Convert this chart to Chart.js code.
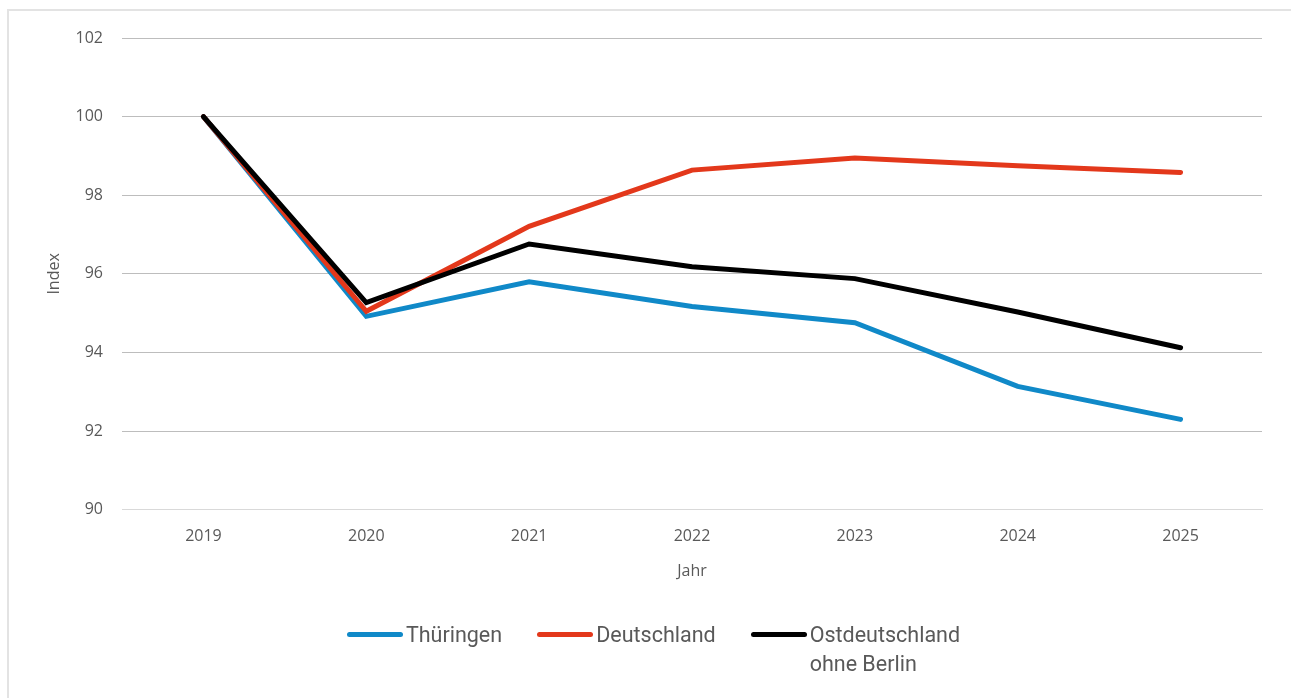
<!DOCTYPE html>
<html lang="de">
<head>
<meta charset="utf-8">
<script src="https://cdn.jsdelivr.net/npm/chart.js@4.4.1/dist/chart.umd.min.js"></script>
<style>
  html, body { margin: 0; padding: 0; background: #fff; overflow: hidden; }
  #wrap { position: relative; width: 1291px; height: 698px; }
  #frame {
    position: absolute; left: 7px; top: 9px; width: 1300px; height: 700px;
    border-left: 2px solid #e3e3e3; border-top: 2px solid #e3e3e3;
  }
  #legend {
    position: absolute; top: 620px; left: 8px; width: 1291px;
    display: flex; justify-content: center; align-items: flex-start; gap: 35px;
    font-family: "Liberation Sans Narrow", "Roboto", sans-serif; font-size: 21.5px; color: #595959;
  }
  .item { display: flex; align-items: flex-start; }
  .swatch { width: 56px; height: 5px; border-radius: 3px; margin-top: 12px; margin-right: 3px; }
  .lbl { line-height: 29px; }
</style>
</head>
<body>
<div id="wrap">
  <div id="frame"></div>
  <canvas id="indexChart" width="1291" height="698"></canvas>
  <div id="legend"></div>
</div>
<script>
const years = ["2019", "2020", "2021", "2022", "2023", "2024", "2025"];
const thueringen = [100, 94.92, 95.8, 95.17, 94.76, 93.14, 92.3];
const deutschland = [100, 95.05, 97.21, 98.64, 98.95, 98.75, 98.58];
const ostOhneBerlin = [100, 95.27, 96.76, 96.18, 95.88, 95.03, 94.12];

const seriesInfo = [
  { label: "Thüringen", data: thueringen, color: "#1089c8", order: 3 },
  { label: "Deutschland", data: deutschland, color: "#e3381b", order: 2 },
  { label: "Ostdeutschland\nohne Berlin", data: ostOhneBerlin, color: "#000000", order: 1 },
];

const tickFont = { family: "'Open Sans', 'Noto Sans', sans-serif", size: 16 };
const textColor = "#595959";

const ctx = document.getElementById("indexChart").getContext("2d");
const indexChart = new Chart(ctx, {
  type: "line",
  data: {
    labels: years,
    datasets: seriesInfo.map((s) => ({
      label: s.label,
      data: s.data,
      borderColor: s.color,
      backgroundColor: s.color,
      borderWidth: 5,
      borderCapStyle: "round",
      pointRadius: 0,
      tension: 0,
      fill: false,
      order: s.order,
    })),
  },
  options: {
    responsive: false,
    animation: false,
    layout: {
      padding: { left: 37, right: 29, top: 38, bottom: 119 },
    },
    plugins: {
      legend: { display: false },
      tooltip: { enabled: false },
    },
    scales: {
      x: {
        offset: true,
        grid: { display: false, drawTicks: false },
        border: { display: true, color: "#d9d9d9", width: 1 },
        ticks: { color: textColor, font: tickFont, padding: 17, maxRotation: 0 },
        title: {
          display: true,
          text: "Jahr",
          color: textColor,
          font: { family: tickFont.family, size: 16, lineHeight: 1.0 },
          padding: { top: 0, bottom: 0 },
        },
      },
      y: {
        min: 90,
        max: 102,
        afterFit: (scale) => {
          scale.width = 85;
        },
        grid: {
          drawTicks: false,
          color: (c) => (c.tick && c.tick.value === 90 ? "#d9d9d9" : "#bdbdbd"),
          lineWidth: 1,
        },
        border: { display: false },
        ticks: { stepSize: 2, color: textColor, font: tickFont, padding: 19 },
        title: {
          display: true,
          text: "Index",
          color: textColor,
          font: tickFont,
          padding: { top: 8, bottom: 4 },
        },
      },
    },
  },
});

// legend below the chart (last label breaks into two lines)
const legendBox = document.getElementById("legend");
seriesInfo.forEach((s) => {
  const item = document.createElement("div");
  item.className = "item";
  const sw = document.createElement("div");
  sw.className = "swatch";
  sw.style.background = s.color;
  const lbl = document.createElement("div");
  lbl.className = "lbl";
  lbl.innerHTML = s.label.replace("\n", "<br>");
  item.appendChild(sw);
  item.appendChild(lbl);
  legendBox.appendChild(item);
});
</script>
</body>
</html>
